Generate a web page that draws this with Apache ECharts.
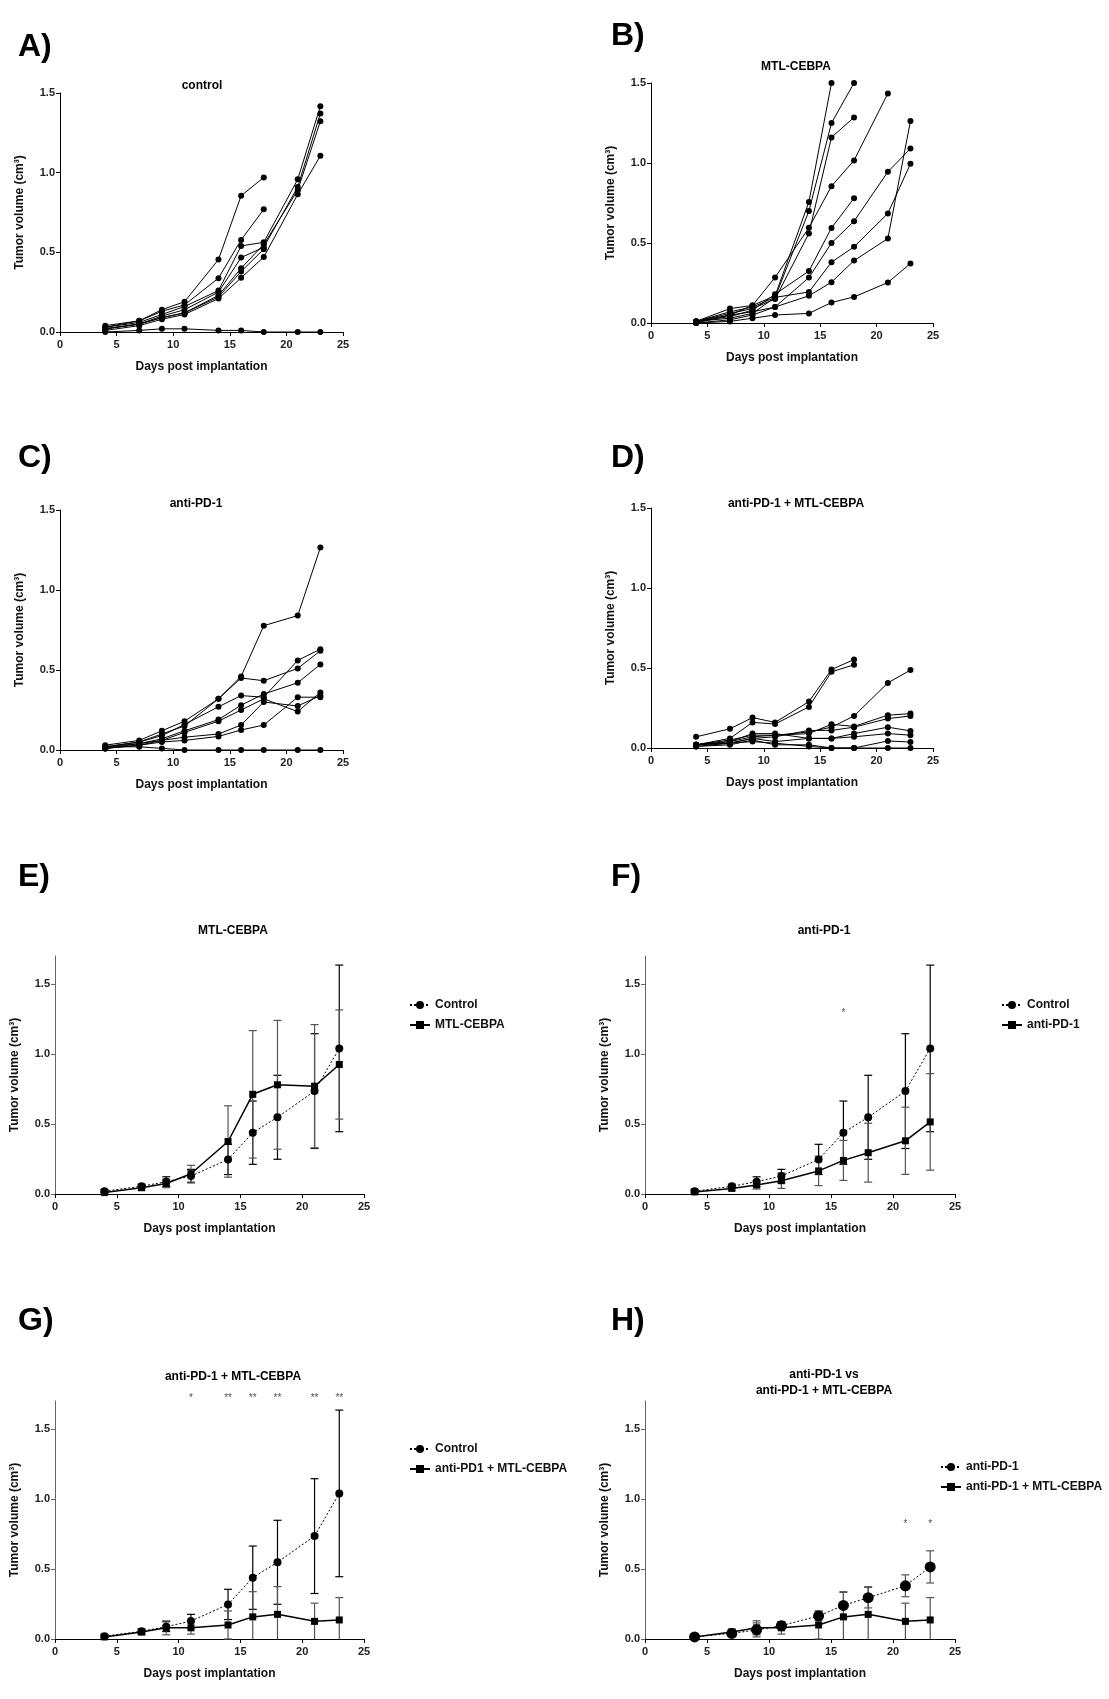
<!DOCTYPE html>
<html>
<head>
<meta charset="utf-8">
<script src="https://cdn.jsdelivr.net/npm/echarts@6/dist/echarts.min.js"></script>
<style>body{margin:0;background:#fff;}</style>
</head>
<body>
<div id="main" style="width:1109px;height:1699px;"></div>
<script type="text/javascript">
// measurement days
var days = [4, 7, 9, 11, 14, 16, 18, 21, 23];
var xTicks = [0, 5, 10, 15, 20, 25];
var yTicks = [0, 0.5, 1, 1.5];

// individual mice, one row per animal (null = no measurement)
var controlMice = [
    [0.04, 0.07, 0.14, 0.19, 0.455, 0.855, 0.97, null, null],
    [0.03, 0.07, 0.13, 0.17, 0.338, 0.578, 0.77, null, null],
    [0.03, 0.06, 0.11, 0.16, 0.26, 0.54, 0.563, 0.958, 1.417],
    [0.02, 0.05, 0.10, 0.14, 0.25, 0.467, 0.532, 0.91, 1.371],
    [0.02, 0.05, 0.09, 0.12, 0.23, 0.40, 0.55, 0.89, 1.323],
    [0.01, 0.04, 0.08, 0.11, 0.21, 0.34, 0.47, 0.864, 1.106],
    [0.02, 0.05, 0.09, 0.12, 0.22, 0.38, 0.52, null, null],
    [0.00, 0.01, 0.02, 0.02, 0.01, 0.01, 0.00, 0.00, 0.00]
];
var mtlMice = [
    [0.01, 0.09, 0.11, 0.17, 0.757, 1.50, null, null, null],
    [0.01, 0.07, 0.10, 0.16, 0.70, 1.25, 1.50, null, null],
    [0.01, 0.06, 0.09, 0.15, 0.56, 1.16, 1.285, null, null],
    [0.01, 0.05, 0.11, 0.285, 0.595, 0.855, 1.016, 1.435, null],
    [0.01, 0.04, 0.08, 0.18, 0.325, 0.594, 0.78, null, null],
    [0.00, 0.05, 0.07, 0.10, 0.284, 0.50, 0.636, 0.945, 1.09],
    [0.01, 0.03, 0.06, 0.16, 0.194, 0.38, 0.476, 0.685, 0.995],
    [0.00, 0.02, 0.05, 0.10, 0.17, 0.255, 0.39, 0.528, 1.262],
    [0.00, 0.01, 0.03, 0.05, 0.06, 0.128, 0.163, 0.253, 0.372]
];
var pd1Mice = [
    [0.03, 0.06, 0.12, 0.18, 0.32, 0.46, 0.777, 0.84, 1.265],
    [0.02, 0.05, 0.10, 0.15, 0.32, 0.45, 0.433, 0.51, 0.62],
    [0.02, 0.05, 0.09, 0.16, 0.27, 0.34, 0.33, 0.56, 0.63],
    [0.01, 0.04, 0.07, 0.12, 0.19, 0.28, 0.35, 0.42, 0.535],
    [0.01, 0.03, 0.06, 0.11, 0.18, 0.25, 0.32, 0.24, 0.36],
    [0.02, 0.04, 0.06, 0.08, 0.10, 0.156, 0.30, 0.275, 0.34],
    [0.01, 0.03, 0.05, 0.06, 0.085, 0.125, 0.156, 0.33, 0.33],
    [0.02, 0.02, 0.01, 0.00, 0.00, 0.00, 0.00, 0.00, 0.00]
];
var comboMice = [
    [0.07, 0.12, 0.19, 0.16, 0.29, 0.49, 0.553, null, null],
    [0.02, 0.06, 0.16, 0.15, 0.257, 0.476, 0.52, null, null],
    [0.02, 0.05, 0.08, 0.08, 0.10, 0.13, 0.20, 0.407, 0.487],
    [0.02, 0.04, 0.07, 0.08, 0.09, 0.148, 0.135, 0.205, 0.215],
    [0.01, 0.03, 0.06, 0.07, 0.11, 0.11, 0.13, 0.184, 0.20],
    [0.02, 0.04, 0.09, 0.09, 0.06, 0.06, 0.09, 0.13, 0.107],
    [0.02, 0.03, 0.06, 0.04, 0.06, 0.06, 0.07, 0.09, 0.08],
    [0.01, 0.02, 0.05, 0.02, 0.02, 0.00, 0.00, 0.044, 0.037],
    [0.02, 0.03, 0.04, 0.03, 0.01, 0.00, 0.00, 0.00, 0.00]
];

// group means and error bars
var controlMean = [0.02, 0.055, 0.088, 0.128, 0.247, 0.438, 0.548, 0.735, 1.04];
var controlSD   = [0.012, 0.015, 0.035, 0.048, 0.108, 0.226, 0.30, 0.41, 0.595];
var mtlMean     = [0.01, 0.045, 0.075, 0.145, 0.375, 0.712, 0.78, 0.77, 0.925];
var mtlSD       = [0.008, 0.02, 0.03, 0.06, 0.255, 0.455, 0.46, 0.44, 0.39];
var pd1Mean     = [0.015, 0.04, 0.065, 0.095, 0.165, 0.24, 0.295, 0.38, 0.515];
var pd1SD       = [0.008, 0.015, 0.03, 0.055, 0.105, 0.143, 0.21, 0.24, 0.345];
var pd1ErrH     = [0.005, 0.02, 0.05, 0.027, 0.035, 0.093, 0.073, 0.078, 0.115];
var comboMean   = [0.015, 0.05, 0.08, 0.08, 0.10, 0.158, 0.176, 0.126, 0.136];
var comboSD     = [0.008, 0.02, 0.05, 0.045, 0.10, 0.18, 0.198, 0.13, 0.16];

// significance marks
var starDaysF = [16];
var starTextF = ['*'];
var starDaysG = [11, 14, 16, 18, 21, 23];
var starTextG = ['*', '**', '**', '**', '**', '**'];
var starDaysH = [21, 23];
var starTextH = ['*', '*'];

var FONT = '"Liberation Sans", Arial, sans-serif';

var grids = [
    {left: 60,  top: 93,   width: 283, height: 239},
    {left: 651, top: 83,   width: 282, height: 240},
    {left: 60,  top: 510,  width: 283, height: 240},
    {left: 651, top: 508,  width: 282, height: 240},
    {left: 55,  top: 956,  width: 309, height: 238},
    {left: 645, top: 956,  width: 310, height: 238},
    {left: 55,  top: 1401, width: 309, height: 238},
    {left: 645, top: 1401, width: 310, height: 238}
];
var yMax = [1.5, 1.5, 1.5, 1.5, 1.7, 1.7, 1.7, 1.7];

var tickStyle = {fontFamily: FONT, fontSize: 11, fontWeight: 'bold', color: '#222'};
var nameStyle = {fontFamily: FONT, fontSize: 12, fontWeight: 'bold', color: '#111'};

var xAxes = grids.map(function (g, i) {
    return {
        type: 'value', gridIndex: i, min: 0, max: 25, interval: 5,
        axisLine: {lineStyle: {color: '#000', width: 1}},
        axisTick: {length: 4, lineStyle: {color: '#000'}},
        axisLabel: Object.assign({margin: 7}, tickStyle),
        splitLine: {show: false},
        name: 'Days post implantation', nameLocation: 'middle', nameGap: 29,
        nameTextStyle: nameStyle
    };
});
var yAxes = grids.map(function (g, i) {
    var lineCol = i < 4 ? '#000' : '#666';
    return {
        type: 'value', gridIndex: i, min: 0, max: yMax[i], interval: 0.5,
        axisLine: {show: true, lineStyle: {color: lineCol, width: 1}},
        axisTick: {show: true, length: 4, lineStyle: {color: lineCol}, customValues: yTicks},
        axisLabel: Object.assign({margin: 5, customValues: yTicks, formatter: function (v) { return v.toFixed(1); }}, tickStyle),
        splitLine: {show: false},
        name: 'Tumor volume (cm³)', nameLocation: 'middle', nameGap: 34,
        nameTextStyle: nameStyle
    };
});

var series = [];

function addMice(mice, idx) {
    mice.forEach(function (m) {
        var pts = [];
        days.forEach(function (d, j) { if (m[j] !== null) pts.push([d, m[j]]); });
        series.push({
            type: 'line', xAxisIndex: idx, yAxisIndex: idx, data: pts,
            symbol: 'circle', symbolSize: 6, silent: true,
            lineStyle: {color: '#000', width: 1}, itemStyle: {color: '#000'}
        });
    });
}

function errRender(color) {
    return function (params, api) {
        var x = api.value(0), lo = api.value(1), hi = api.value(2);
        var capLo = lo >= 0;
        if (lo < 0) lo = 0;
        var p1 = api.coord([x, lo]), p2 = api.coord([x, hi]);
        var w = 4;
        var st = {stroke: color, lineWidth: 1.2};
        var ch = [
            {type: 'line', shape: {x1: p1[0], y1: p1[1], x2: p2[0], y2: p2[1]}, style: st},
            {type: 'line', shape: {x1: p2[0] - w, y1: p2[1], x2: p2[0] + w, y2: p2[1]}, style: st}
        ];
        if (capLo) ch.push({type: 'line', shape: {x1: p1[0] - w, y1: p1[1], x2: p1[0] + w, y2: p1[1]}, style: st});
        return {type: 'group', children: ch};
    };
}

function addGroup(name, mean, err, idx, kind) {
    var errColor = kind === 'ctrl' ? '#000' : '#555';
    series.push({
        type: 'custom', xAxisIndex: idx, yAxisIndex: idx, silent: true, z: 1,
        data: days.map(function (d, j) { return [d, mean[j] - err[j], mean[j] + err[j]]; }),
        renderItem: errRender(errColor)
    });
    var isCircle = kind !== 'treat';
    series.push({
        type: 'line', name: name, xAxisIndex: idx, yAxisIndex: idx, silent: true, z: 3,
        data: days.map(function (d, j) { return [d, mean[j]]; }),
        symbol: isCircle ? 'circle' : 'rect',
        symbolSize: kind === 'big' ? 11 : (isCircle ? 8 : 7),
        lineStyle: isCircle ? {color: '#000', width: 1, type: [2, 2]} : {color: '#000', width: 1.5},
        itemStyle: {color: '#000'}
    });
}

function addStars(daysArr, textArr, yVal, idx) {
    series.push({
        type: 'scatter', xAxisIndex: idx, yAxisIndex: idx, silent: true, clip: false,
        symbolSize: 0,
        data: daysArr.map(function (d, j) { return {value: [d, yVal], name: textArr[j]}; }),
        label: {show: true, position: 'inside', formatter: '{b}', fontFamily: FONT, fontSize: 10, color: '#222'}
    });
}

addMice(controlMice, 0);
addMice(mtlMice, 1);
addMice(pd1Mice, 2);
addMice(comboMice, 3);

addGroup('Control|E', controlMean, controlSD, 4, 'ctrl');
addGroup('MTL-CEBPA|E', mtlMean, mtlSD, 4, 'treat');
addGroup('Control|F', controlMean, controlSD, 5, 'ctrl');
addGroup('anti-PD-1|F', pd1Mean, pd1SD, 5, 'treat');
addGroup('Control|G', controlMean, controlSD, 6, 'ctrl');
addGroup('anti-PD1 + MTL-CEBPA|G', comboMean, comboSD, 6, 'treat');
addGroup('anti-PD-1|H', pd1Mean, pd1ErrH, 7, 'big');
addGroup('anti-PD-1 + MTL-CEBPA|H', comboMean, comboSD, 7, 'treat');

addStars(starDaysF, starTextF, 1.29, 5);
addStars(starDaysG, starTextG, 1.72, 6);
addStars(starDaysH, starTextH, 0.82, 7);

function legendAt(names, left, top) {
    return {
        orient: 'vertical', left: left, top: top, data: names,
        itemWidth: 20, itemHeight: 10, itemGap: 8, selectedMode: false,
        textStyle: {fontFamily: FONT, fontSize: 12, fontWeight: 'bold', color: '#111'},
        formatter: function (n) { return n.split('|')[0]; }
    };
}

function txt(s, x, y, size, align) {
    return {
        type: 'text', x: x, y: y, silent: true,
        style: {text: s, fontFamily: FONT, fontSize: size, fontWeight: 'bold', fill: '#000',
                align: align || 'center', verticalAlign: 'middle'}
    };
}

var graphics = [
    txt('A)', 18, 47, 32, 'left'), txt('B)', 611, 36, 32, 'left'),
    txt('C)', 18, 458, 32, 'left'), txt('D)', 611, 458, 32, 'left'),
    txt('E)', 18, 877, 32, 'left'), txt('F)', 611, 877, 32, 'left'),
    txt('G)', 18, 1321, 32, 'left'), txt('H)', 611, 1321, 32, 'left'),
    txt('control', 202, 86, 12), txt('MTL-CEBPA', 796, 67, 12),
    txt('anti-PD-1', 196, 504, 12), txt('anti-PD-1 + MTL-CEBPA', 796, 504, 12),
    txt('MTL-CEBPA', 233, 931, 12), txt('anti-PD-1', 824, 931, 12),
    txt('anti-PD-1 + MTL-CEBPA', 233, 1377, 12),
    txt('anti-PD-1 vs', 824, 1375, 12), txt('anti-PD-1 + MTL-CEBPA', 824, 1391, 12)
];

var myChart = echarts.init(document.getElementById('main'));
var option = {
    backgroundColor: '#fff',
    animation: false,
    grid: grids.map(function (g) { return Object.assign({outerBoundsMode: 'none'}, g); }),
    xAxis: xAxes,
    yAxis: yAxes,
    legend: [
        legendAt(['Control|E', 'MTL-CEBPA|E'], 404, 994),
        legendAt(['Control|F', 'anti-PD-1|F'], 996, 994),
        legendAt(['Control|G', 'anti-PD1 + MTL-CEBPA|G'], 404, 1438),
        legendAt(['anti-PD-1|H', 'anti-PD-1 + MTL-CEBPA|H'], 935, 1456)
    ],
    graphic: graphics,
    series: series
};
myChart.setOption(option);
</script>
</body>
</html>
